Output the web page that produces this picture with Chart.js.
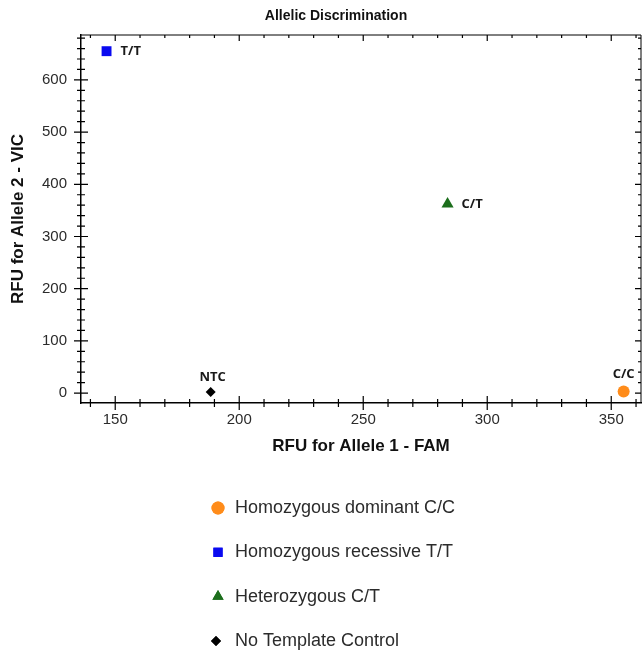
<!DOCTYPE html>
<html>
<head>
<meta charset="utf-8">
<script src="https://cdn.jsdelivr.net/npm/chart.js@4/dist/chart.umd.min.js"></script>
<style>
  html, body { margin: 0; padding: 0; background: #fff; overflow: hidden; }
  canvas { display: block; }
</style>
</head>
<body>
<canvas id="allelicChart" width="644" height="653"></canvas>
<script>
// --- Data ---
const genotypes = ['Homozygous dominant C/C', 'Homozygous recessive T/T', 'Heterozygous C/T', 'No Template Control'];
const callTags = ['C/C', 'T/T', 'C/T', 'NTC'];
const famRfu = [355, 146.5, 284, 188.5];     // Allele 1 - FAM
const vicRfu = [3, 655, 362, 2];             // Allele 2 - VIC
const xTickValues = [150, 200, 250, 300, 350];
const yTickValues = [0, 100, 200, 300, 400, 500, 600];

// --- Styles ---
const markerColors = ['#ff8c1a', '#0a0af0', '#1c6e1c', '#000000'];
const markerShapes = ['circle', 'rect', 'triangle', 'rectRot'];
const markerSizes = [6, 7, 7, 5];
const textColor = '#2b2b2b';
const fontFamily = '"Liberation Sans", Arial, sans-serif';

// where each point label sits relative to its marker
const tagPlacement = {
  'T/T': { dx: 14, dy: 0, align: 'left' },
  'C/T': { dx: 14, dy: 0, align: 'left' },
  'NTC': { dx: 2, dy: -15, align: 'center' },
  'C/C': { dx: 0, dy: -17, align: 'center' }
};

const datasets = genotypes.map((name, i) => ({
  label: name,
  data: [{ x: famRfu[i], y: vicRfu[i] }],
  pointStyle: markerShapes[i],
  pointRadius: markerSizes[i],
  pointHoverRadius: markerSizes[i],
  backgroundColor: markerColors[i],
  borderColor: markerColors[i],
  borderWidth: 0
}));

// --- Axis decoration: crossing ticks, frame, labels, legend ---
const decorPlugin = {
  id: 'decor',
  afterDraw(chart) {
    const ctx = chart.ctx;
    const { left, right, top, bottom } = chart.chartArea;
    const xs = chart.scales.x, ys = chart.scales.y;
    ctx.save();
    ctx.strokeStyle = '#000';

    // frame top/right
    ctx.lineWidth = 1;
    ctx.beginPath();
    ctx.moveTo(left, top); ctx.lineTo(right, top); ctx.lineTo(right, bottom);
    ctx.stroke();

    ctx.lineWidth = 1.2;
    // x ticks every 10
    for (let v = 140; v <= 360; v += 10) {
      const px = xs.getPixelForValue(v);
      if (px < left + 1 || px > right - 1) continue;
      const major = v % 50 === 0;
      ctx.beginPath();
      ctx.moveTo(px, bottom - (major ? 7 : 4));
      ctx.lineTo(px, bottom + (major ? 7 : 4));
      ctx.moveTo(px, top);
      ctx.lineTo(px, top + (major ? 6 : 3));
      ctx.stroke();
    }
    // y ticks every 20
    for (let v = 0; v <= 680; v += 20) {
      const py = ys.getPixelForValue(v);
      if (py < top + 1 || py > bottom - 1) continue;
      const major = v % 100 === 0;
      ctx.beginPath();
      ctx.moveTo(left - (major ? 7 : 4), py);
      ctx.lineTo(left + (major ? 7 : 4), py);
      ctx.moveTo(right, py);
      ctx.lineTo(right - (major ? 6 : 3), py);
      ctx.stroke();
    }

    // point labels
    ctx.font = 'bold 13px "Open Sans", Arial, sans-serif';
    ctx.fillStyle = '#1a1a1a';
    ctx.textBaseline = 'middle';
    callTags.forEach((tag, i) => {
      const p = tagPlacement[tag];
      ctx.textAlign = p.align;
      ctx.fillText(tag, xs.getPixelForValue(famRfu[i]) + p.dx, ys.getPixelForValue(vicRfu[i]) + p.dy);
    });

    // title
    ctx.font = 'bold 14px ' + fontFamily;
    ctx.textAlign = 'center';
    ctx.fillStyle = '#111';
    ctx.fillText('Allelic Discrimination', 336, 16);

    // legend
    ctx.font = '18px ' + fontFamily;
    ctx.textAlign = 'left';
    genotypes.forEach((name, i) => {
      const cy = 508 + i * 44.3;
      ctx.fillStyle = markerColors[i];
      Chart.helpers.drawPoint(ctx, {
        pointStyle: markerShapes[i],
        radius: i === 3 ? 5 : 6.5,
        rotation: 0,
        borderWidth: 0
      }, i === 3 ? 216 : 218, cy);
      ctx.fill();
      ctx.fillStyle = textColor;
      ctx.fillText(name, 235, cy);
    });
    ctx.restore();
  }
};

new Chart(document.getElementById('allelicChart'), {
  type: 'scatter',
  data: { datasets },
  plugins: [decorPlugin],
  options: {
    responsive: false,
    animation: false,
    layout: { autoPadding: false, padding: { top: 35, right: 3, bottom: 196, left: 0 } },
    plugins: {
      legend: { display: false },
      tooltip: { enabled: false }
    },
    scales: {
      x: {
        type: 'linear',
        min: 136.2,
        max: 362,
        afterBuildTicks: s => { s.ticks = xTickValues.map(v => ({ value: v })); },
        afterFit: s => { s.height = 54; s.paddingLeft = 0; s.paddingRight = 0; },
        grid: { display: false, drawTicks: false },
        border: { display: true, color: '#000', width: 1.5 },
        ticks: { padding: 8, color: textColor, font: { size: 15, family: fontFamily }, maxRotation: 0 },
        title: {
          display: true,
          text: 'RFU for Allele 1 - FAM',
          color: '#111',
          font: { size: 17, weight: 'bold', family: fontFamily },
          padding: { top: 0, bottom: 0 }
        }
      },
      y: {
        type: 'linear',
        min: -19,
        max: 686,
        afterBuildTicks: s => { s.ticks = yTickValues.map(v => ({ value: v })); },
        afterFit: s => { s.width = 81; s.paddingTop = 0; s.paddingBottom = 0; },
        grid: { display: false, drawTicks: false },
        border: { display: true, color: '#000', width: 1.5 },
        ticks: { padding: 14, color: textColor, font: { size: 15, family: fontFamily } },
        title: {
          display: true,
          text: 'RFU for Allele 2 - VIC',
          color: '#111',
          font: { size: 17, weight: 'bold', family: fontFamily },
          padding: { top: 8, bottom: 0 }
        }
      }
    }
  }
});
</script>
</body>
</html>
